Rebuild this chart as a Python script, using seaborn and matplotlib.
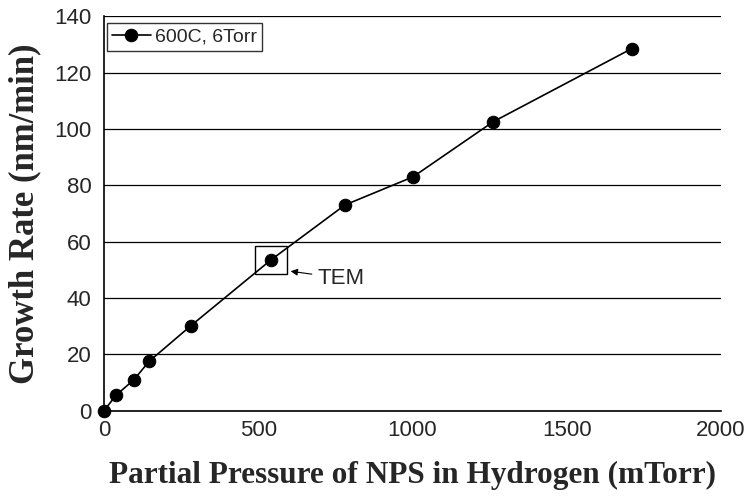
import matplotlib
matplotlib.use("Agg")
import matplotlib.pyplot as plt
import seaborn as sns
import pandas as pd
from matplotlib.patches import Rectangle

# data
pressure = [0, 39, 97, 146, 282, 541, 781, 1002, 1261, 1711]
growth = [0, 5.5, 11, 17.5, 30.2, 53.5, 73, 83, 102.5, 128.5]
series_name = "600C, 6Torr"

df = pd.DataFrame({"pressure": pressure, "growth": growth})

sns.set_style("white")
plt.rcParams["font.family"] = ["Liberation Sans", "DejaVu Sans"]

fig, ax = plt.subplots(figsize=(7.48, 5.04), dpi=100)
fig.subplots_adjust(left=0.139, right=0.964, top=0.968, bottom=0.185)

sns.lineplot(data=df, x="pressure", y="growth", ax=ax, color="black",
             marker="o", markersize=9, linewidth=1.2, label=series_name,
             markeredgecolor="black", clip_on=False, zorder=6)

ax.set_xlim(0, 2000)
ax.set_ylim(0, 140)
ax.set_xticks(range(0, 2001, 500))
ax.set_yticks(range(0, 141, 20))
ax.yaxis.grid(True, color="black", linewidth=0.9)
ax.set_axisbelow(True)
for s in ["top", "right"]:
    ax.spines[s].set_visible(False)
for s in ["left", "bottom"]:
    ax.spines[s].set_color("black")
    ax.spines[s].set_linewidth(1.2)
ax.tick_params(axis="both", direction="out", length=5, width=1, color="black",
               labelsize=16, pad=4)
ax.tick_params(axis="x", pad=2)

ax.set_xlabel("Partial Pressure of NPS in Hydrogen (mTorr)",
              family="Liberation Serif", fontweight="bold", fontsize=22.5, labelpad=14)
ax.set_ylabel("Growth Rate (nm/min)",
              family="Liberation Serif", fontweight="bold", fontsize=25, labelpad=9)

leg = ax.legend(loc="upper left", fontsize=14, frameon=True, fancybox=False,
                handlelength=2, borderpad=0.25, handletextpad=0.2,
                borderaxespad=0, bbox_to_anchor=(0.005, 0.982))
leg.get_frame().set_edgecolor("black")
leg.get_frame().set_linewidth(1.0)

# TEM box and arrow
ax.add_patch(Rectangle((490, 48.5), 102, 10, fill=False, edgecolor="black",
                       linewidth=1.0, zorder=5))
ax.annotate("TEM", xy=(605, 49.5), xytext=(693, 47), fontsize=16,
            va="center", ha="left",
            arrowprops=dict(arrowstyle="-|>", color="black", lw=0.8,
                            shrinkA=2, shrinkB=0, mutation_scale=10))

fig.savefig("out.png", dpi=100)
